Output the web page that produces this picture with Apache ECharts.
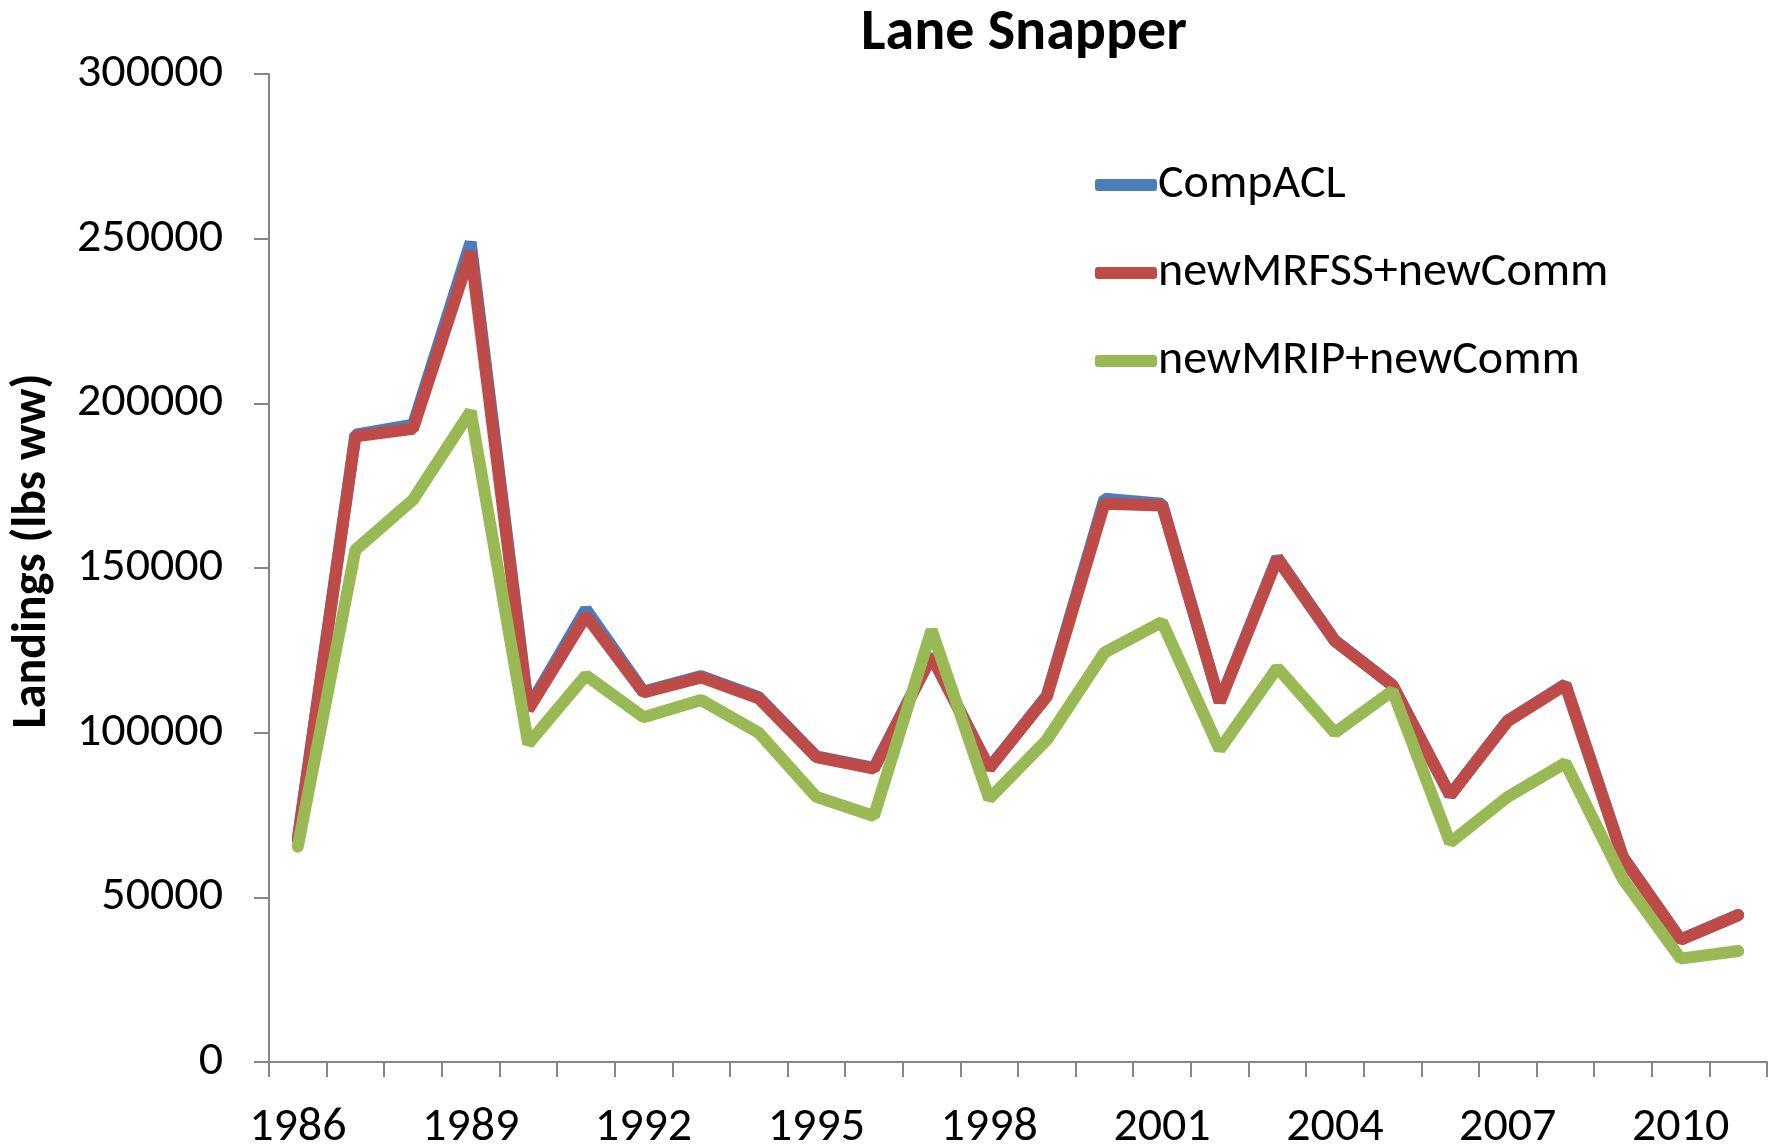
<!DOCTYPE html>
<html>
<head>
<meta charset="utf-8">
<title>Lane Snapper</title>
<script src="https://cdn.jsdelivr.net/npm/echarts@6/dist/echarts.min.js"></script>
<style>
	html, body { margin: 0; padding: 0; background: #fff; }
	#chart { width: 1781px; height: 1146px; }
</style>
</head>
<body>
<div id="chart"></div>
<script>
var years = ['1986', '1987', '1988', '1989', '1990', '1991', '1992', '1993', '1994', '1995', '1996', '1997', '1998',
	'1999', '2000', '2001', '2002', '2003', '2004', '2005', '2006', '2007', '2008', '2009', '2010', '2011'];

var compACL = [67700, 190500, 193500, 249000, 107500, 137500, 112500, 117200, 110800, 92800, 89300, 123500, 89300,
	111200, 171000, 169500, 109300, 153200, 128000, 114500, 81000, 103700, 114700, 62300, 37200, 44600];

var newMRFSS = [67500, 190000, 192300, 246000, 107000, 135500, 112200, 116800, 110400, 92600, 89100, 123100, 89100,
	111000, 169500, 169000, 109300, 152800, 127800, 114300, 81000, 103500, 114500, 62000, 37100, 44600];

var newMRIP = [65400, 155500, 170700, 197600, 96600, 117400, 104700, 109900, 100000, 80500, 74700, 131200, 79900,
	97800, 124300, 133600, 94900, 119700, 100000, 112700, 66600, 80500, 90800, 55500, 31400, 33700];

var seriesNames = ['CompACL', 'newMRFSS+newComm', 'newMRIP+newComm'];
var colors = ['#4A7EBB', '#BE4B48', '#98B954'];

var font = 'Calibri, Carlito, Lato, sans-serif';

var myChart = echarts.init(document.getElementById('chart'));

function lineSeries(name, data, color){
	return {
		name: name,
		type: 'line',
		data: data,
		showSymbol: false,
		symbol: 'none',
		animation: false,
		lineStyle: {
			color: color,
			width: 12,
			cap: 'round'
		},
		itemStyle: { color: color }
	};
}

var option = {
	backgroundColor: '#fff',
	color: colors,
	title: {
		text: 'Lane Snapper',
		left: 1019,
		textAlign: 'center',
		top: 0,
		textStyle: {
			fontFamily: font,
			fontSize: 58,
			fontWeight: 'bold',
			color: '#000'
		}
	},
	legend: {
		orient: 'vertical',
		left: 1090,
		top: 156,
		itemWidth: 62,
		itemHeight: 12,
		itemGap: 40,
		icon: 'roundRect',
		data: seriesNames,
		textStyle: {
			fontFamily: font,
			fontSize: 48,
			color: '#000',
			padding: [0, 0, 0, -4]
		}
	},
	grid: {
		left: 269,
		right: 14,
		top: 74,
		bottom: 84,
		outerBoundsMode: 'none'
	},
	xAxis: {
		type: 'category',
		data: years,
		boundaryGap: true,
		axisLine: { lineStyle: { color: '#868686', width: 2 } },
		axisTick: { show: true, interval: 0, length: 15, lineStyle: { color: '#868686', width: 2 } },
		axisLabel: {
			interval: 2,
			margin: 42,
			fontFamily: font,
			fontSize: 48,
			color: '#000'
		},
		splitLine: { show: false }
	},
	yAxis: {
		type: 'value',
		min: 0,
		max: 300000,
		interval: 50000,
		name: 'Landings (lbs ww)',
		nameLocation: 'middle',
		nameGap: 212,
		nameTextStyle: {
			fontFamily: font,
			fontSize: 48,
			fontWeight: 'bold',
			color: '#000',
			padding: [0, 0, 0, 34]
		},
		axisLine: { show: true, lineStyle: { color: '#868686', width: 2 } },
		axisTick: { show: true, length: 15, lineStyle: { color: '#868686', width: 2 } },
		axisLabel: {
			margin: 46,
			fontFamily: font,
			fontSize: 48,
			color: '#000',
			formatter: function(v){ return String(v); }
		},
		splitLine: { show: false }
	},
	series: [
		lineSeries(seriesNames[0], compACL, colors[0]),
		lineSeries(seriesNames[1], newMRFSS, colors[1]),
		lineSeries(seriesNames[2], newMRIP, colors[2])
	]
};

myChart.setOption(option);
</script>
</body>
</html>
